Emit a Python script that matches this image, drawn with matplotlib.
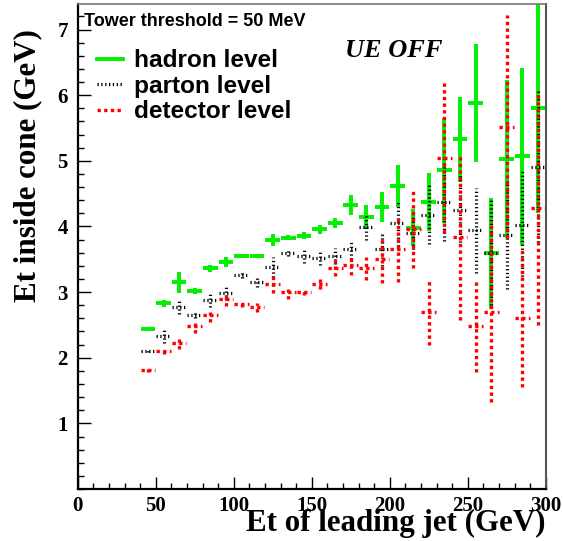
import matplotlib
matplotlib.use('Agg')
import matplotlib.pyplot as plt
from matplotlib.lines import Line2D
from matplotlib.ticker import MultipleLocator

# bin centres (GeV), half width 5
et_jet = [45, 55, 65, 75, 85, 95, 105, 115, 125, 135, 145, 155, 165,
          175, 185, 195, 205, 215, 225, 235, 245, 255, 265, 275, 285, 295]

hadron = [2.44, 2.83, 3.15, 3.02, 3.36, 3.46, 3.55, 3.55, 3.80, 3.83, 3.86, 3.96, 4.05,
          4.33, 4.14, 4.30, 4.62, 3.98, 4.37, 4.86, 5.33, 5.88, 3.59, 5.03, 5.07, 5.81]
hadron_err = [0.02, 0.05, 0.16, 0.05, 0.05, 0.08, 0.03, 0.03, 0.09, 0.04, 0.05, 0.07, 0.08,
              0.15, 0.18, 0.23, 0.32, 0.28, 0.44, 0.8, 0.65, 0.9, 0.85, 1.2, 1.35, 1.6]

parton = [2.10, 2.33, 2.78, 2.65, 2.88, 2.98, 3.26, 3.15, 3.38, 3.60, 3.55, 3.52, 3.55,
          3.65, 3.99, 3.65, 4.05, 3.90, 4.18, 4.38, 4.25, 3.94, 3.60, 3.87, 4.02, 4.91]
parton_err = [0.02, 0.1, 0.12, 0.05, 0.1, 0.1, 0.05, 0.07, 0.15, 0.05, 0.1, 0.1, 0.12,
              0.15, 0.2, 0.25, 0.35, 0.3, 0.45, 0.6, 0.55, 0.65, 0.8, 0.82, 0.83, 1.15]

detector = [1.81, 2.10, 2.22, 2.48, 2.65, 2.89, 2.82, 2.77, 3.12, 3.00, 3.00, 3.12, 3.37,
            3.41, 3.36, 3.50, 3.65, 3.96, 2.69, 5.05, 3.84, 2.48, 2.70, 5.52, 2.61, 4.28]
detector_err = [0.02, 0.05, 0.08, 0.1, 0.1, 0.1, 0.05, 0.07, 0.13, 0.1, 0.05, 0.08, 0.12,
                0.15, 0.18, 0.36, 0.5, 0.6, 0.5, 1.15, 1.27, 0.69, 1.38, 1.7, 1.05, 1.78]

labels = ['hadron level', 'parton level', 'detector level']
green = '#00f000'
red = '#ff0000'
black_dots = (0, (0.4, 0.8))
red_dots = (0, (1, 1))

fig = plt.figure(figsize=(5.63, 5.41), dpi=100)
ax = fig.add_axes([0.138, 0.0961, 0.8315, 0.8965])

series = [
    (hadron, hadron_err, green, '-', 2.8, 1),
    (parton, parton_err, 'black', black_dots, 2.3, 2),
    (detector, detector_err, red, red_dots, 2.4, 3),
]
for vals, errs, col, ls, lw, z in series:
    eb = ax.errorbar(et_jet, vals, xerr=4.7, yerr=errs, fmt='none',
                     ecolor=col, elinewidth=lw, capsize=0, zorder=z)
    for coll in eb[2]:
        coll.set_linestyle(ls)

ax.set_xlim(0, 300)
ax.set_ylim(0, 7.39)
ax.xaxis.set_major_locator(MultipleLocator(50))
ax.xaxis.set_minor_locator(MultipleLocator(10))
ax.yaxis.set_minor_locator(MultipleLocator(0.2))
ax.set_yticks([1, 2, 3, 4, 5, 6, 7])
ax.tick_params(which='both', direction='in', top=False, right=False)
ax.tick_params(which='major', length=9, width=1)
ax.tick_params(which='minor', length=4.5, width=1)
for lab in ax.get_xticklabels() + ax.get_yticklabels():
    lab.set_fontfamily('Liberation Serif')
    lab.set_fontweight('bold')
    lab.set_fontsize(15)
ax.tick_params(axis='x', pad=5)
ax.tick_params(axis='y', pad=7)

ax.spines['left'].set_linewidth(1.6)
ax.spines['bottom'].set_linewidth(1.6)
ax.spines['top'].set_color('#777777')
ax.spines['right'].set_color('#555555')
ax.spines['top'].set_linewidth(1.2)
ax.spines['right'].set_linewidth(1.5)

handles = [Line2D([], [], color=green, lw=2.8, ls='-'),
           Line2D([], [], color='black', lw=2.3, ls=black_dots),
           Line2D([], [], color=red, lw=2.4, ls=red_dots)]
ax.legend(handles, labels, loc='upper left', bbox_to_anchor=(0.02, 0.927),
          frameon=False, handlelength=1.05, handletextpad=0.45, labelspacing=0.1,
          borderaxespad=0,
          prop={'family': 'Liberation Sans', 'weight': 'bold', 'size': 17.6})

fig.text(84 / 563, 1 - 21 / 541, 'Tower threshold = 50 MeV', ha='left', va='center',
         fontfamily='Liberation Sans', fontweight='bold', fontsize=13)
fig.text(345 / 563, 1 - 50 / 541, 'UE OFF', ha='left', va='center',
         fontfamily='Liberation Serif', fontweight='bold', fontstyle='italic', fontsize=19)
fig.text(545 / 563, 1 - 531 / 541, 'Et of leading jet (GeV)', ha='right', va='baseline',
         fontfamily='Liberation Serif', fontweight='bold', fontsize=22.3)
fig.text(28 / 563, 1 - 166 / 541, 'Et inside cone (GeV)', ha='center', va='center',
         rotation=90, fontfamily='Liberation Serif', fontweight='bold', fontsize=22.3)

fig.savefig('out.png', dpi=100)
